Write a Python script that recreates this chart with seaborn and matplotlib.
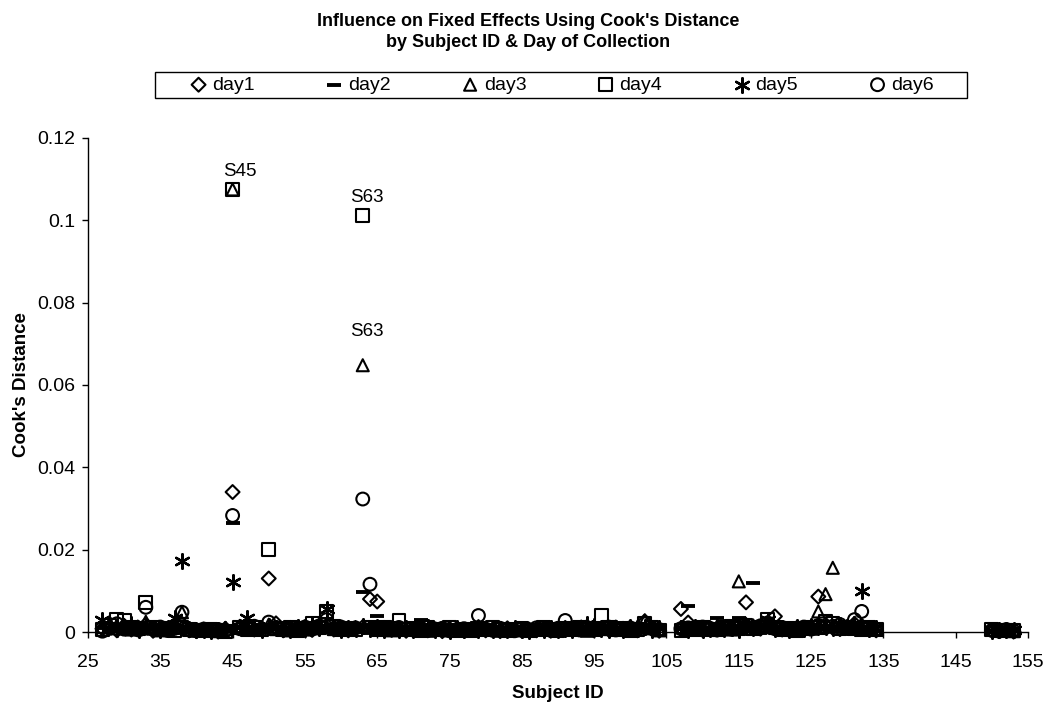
import matplotlib
matplotlib.use("Agg")
import matplotlib.pyplot as plt
import seaborn as sns
import pandas as pd
from matplotlib.ticker import FuncFormatter, MultipleLocator
from matplotlib.patches import Rectangle

# ---------------- data ----------------
subjects = [27, 28, 29, 30, 31, 32, 33, 34, 35, 36,
            37, 38, 39, 40, 41, 42, 43, 44, 45, 46,
            47, 48, 49, 50, 51, 52, 53, 54, 55, 56,
            57, 58, 59, 60, 61, 62, 63, 64, 65, 66,
            67, 68, 69, 70, 71, 72, 73, 74, 75, 76,
            77, 78, 79, 80, 81, 82, 83, 84, 85, 86,
            87, 88, 89, 90, 91, 92, 93, 94, 95, 96,
            97, 98, 99, 100, 101, 102, 103, 104,
            107, 108, 109, 110, 111, 112, 113, 114, 115, 116,
            117, 118, 119, 120, 121, 122, 123, 124, 125, 126,
            127, 128, 129, 130, 131, 132, 133, 134,
            150, 151, 152, 153]

day1 = [0.0008, 0.0012, 0.0004, 0.0015, 0.0006, 0.0010, 0.0018, 0.0003, 0.0007, 0.0005,
        0.0011, 0.0020, 0.0004, 0.0002, 0.0006, 0.0003, 0.0001, 0.0008, 0.0340, 0.0012,
        0.0015, 0.0006, 0.0009, 0.0130, 0.0021, 0.0004, 0.0010, 0.0007, 0.0012, 0.0005,
        0.0009, 0.0016, 0.0006, 0.0011, 0.0004, 0.0008, 0.0012, 0.0080, 0.0074, 0.0010,
        0.0005, 0.0009, 0.0003, 0.0007, 0.0011, 0.0004, 0.0006, 0.0002, 0.0008, 0.0005,
        0.0003, 0.0007, 0.0012, 0.0004, 0.0006, 0.0002, 0.0009, 0.0005, 0.0003, 0.0006,
        0.0004, 0.0008, 0.0003, 0.0006, 0.0010, 0.0005, 0.0007, 0.0012, 0.0004, 0.0009,
        0.0006, 0.0011, 0.0005, 0.0008, 0.0004, 0.0026, 0.0007, 0.0003,
        0.0056, 0.0023, 0.0008, 0.0005, 0.0010, 0.0006, 0.0012, 0.0009, 0.0015, 0.0072,
        0.0011, 0.0008, 0.0014, 0.0038, 0.0006, 0.0004, 0.0009, 0.0005, 0.0012, 0.0086,
        0.0018, 0.0010, 0.0007, 0.0012, 0.0020, 0.0015, 0.0006, 0.0004,
        0.0004, 0.0002, 0.0003, 0.0001]

day2 = [0.0010, 0.0006, 0.0014, 0.0009, 0.0004, 0.0012, 0.0007, 0.0005, 0.0011, 0.0003,
        0.0008, 0.0013, 0.0005, 0.0003, 0.0007, 0.0002, 0.0004, 0.0006, 0.0265, 0.0009,
        0.0011, 0.0004, 0.0008, 0.0016, 0.0010, 0.0006, 0.0003, 0.0009, 0.0005, 0.0012,
        0.0007, 0.0010, 0.0005, 0.0013, 0.0008, 0.0011, 0.0097, 0.0015, 0.0038, 0.0006,
        0.0009, 0.0012, 0.0004, 0.0008, 0.0028, 0.0006, 0.0010, 0.0003, 0.0007, 0.0011,
        0.0005, 0.0009, 0.0004, 0.0007, 0.0003, 0.0010, 0.0006, 0.0004, 0.0008, 0.0002,
        0.0006, 0.0003, 0.0009, 0.0005, 0.0007, 0.0004, 0.0011, 0.0006, 0.0008, 0.0013,
        0.0004, 0.0007, 0.0010, 0.0005, 0.0009, 0.0012, 0.0006, 0.0008,
        0.0010, 0.0062, 0.0007, 0.0005, 0.0009, 0.0033, 0.0006, 0.0011, 0.0034, 0.0008,
        0.0120, 0.0010, 0.0007, 0.0013, 0.0005, 0.0009, 0.0004, 0.0011, 0.0006, 0.0014,
        0.0009, 0.0012, 0.0006, 0.0015, 0.0010, 0.0008, 0.0005, 0.0003,
        0.0003, 0.0005, 0.0002, 0.0004]

day3 = [0.0012, 0.0020, 0.0009, 0.0016, 0.0006, 0.0011, 0.0025, 0.0008, 0.0004, 0.0007,
        0.0010, 0.0048, 0.0006, 0.0003, 0.0005, 0.0004, 0.0002, 0.0007, 0.1075, 0.0015,
        0.0009, 0.0005, 0.0012, 0.0018, 0.0007, 0.0010, 0.0004, 0.0013, 0.0006, 0.0009,
        0.0011, 0.0014, 0.0007, 0.0009, 0.0005, 0.0012, 0.0648, 0.0010, 0.0008, 0.0006,
        0.0004, 0.0010, 0.0007, 0.0005, 0.0009, 0.0003, 0.0008, 0.0006, 0.0004, 0.0010,
        0.0007, 0.0004, 0.0009, 0.0006, 0.0010, 0.0003, 0.0005, 0.0008, 0.0004, 0.0007,
        0.0009, 0.0005, 0.0011, 0.0004, 0.0007, 0.0010, 0.0006, 0.0003, 0.0008, 0.0012,
        0.0007, 0.0005, 0.0010, 0.0006, 0.0013, 0.0028, 0.0009, 0.0004,
        0.0012, 0.0008, 0.0005, 0.0010, 0.0007, 0.0014, 0.0009, 0.0006, 0.0123, 0.0020,
        0.0016, 0.0010, 0.0025, 0.0012, 0.0007, 0.0009, 0.0005, 0.0011, 0.0008, 0.0050,
        0.0092, 0.0156, 0.0013, 0.0009, 0.0016, 0.0011, 0.0007, 0.0005,
        0.0005, 0.0003, 0.0004, 0.0002]

day4 = [0.0006, 0.0015, 0.0030, 0.0028, 0.0012, 0.0009, 0.0072, 0.0010, 0.0005, 0.0008,
        0.0004, 0.0012, 0.0007, 0.0005, 0.0003, 0.0006, 0.0004, 0.0002, 0.1075, 0.0010,
        0.0007, 0.0012, 0.0005, 0.0200, 0.0009, 0.0006, 0.0011, 0.0004, 0.0008, 0.0022,
        0.0010, 0.0050, 0.0013, 0.0007, 0.0009, 0.0005, 0.1012, 0.0012, 0.0006, 0.0010,
        0.0008, 0.0028, 0.0006, 0.0009, 0.0004, 0.0011, 0.0007, 0.0005, 0.0010, 0.0003,
        0.0006, 0.0004, 0.0008, 0.0005, 0.0010, 0.0007, 0.0003, 0.0006, 0.0009, 0.0004,
        0.0005, 0.0010, 0.0007, 0.0004, 0.0009, 0.0006, 0.0012, 0.0008, 0.0005, 0.0040,
        0.0010, 0.0006, 0.0009, 0.0004, 0.0007, 0.0022, 0.0011, 0.0005,
        0.0004, 0.0008, 0.0006, 0.0011, 0.0007, 0.0005, 0.0010, 0.0013, 0.0009, 0.0015,
        0.0008, 0.0012, 0.0030, 0.0010, 0.0006, 0.0009, 0.0004, 0.0008, 0.0011, 0.0010,
        0.0025, 0.0022, 0.0008, 0.0012, 0.0009, 0.0006, 0.0010, 0.0007,
        0.0006, 0.0004, 0.0005, 0.0003]

day5 = [0.0030, 0.0018, 0.0008, 0.0012, 0.0020, 0.0006, 0.0015, 0.0010, 0.0005, 0.0009,
        0.0033, 0.0172, 0.0007, 0.0004, 0.0006, 0.0003, 0.0005, 0.0008, 0.0122, 0.0011,
        0.0033, 0.0009, 0.0006, 0.0014, 0.0010, 0.0007, 0.0004, 0.0012, 0.0008, 0.0016,
        0.0009, 0.0057, 0.0011, 0.0006, 0.0010, 0.0008, 0.0014, 0.0007, 0.0012, 0.0005,
        0.0010, 0.0006, 0.0009, 0.0004, 0.0008, 0.0012, 0.0005, 0.0007, 0.0003, 0.0009,
        0.0004, 0.0008, 0.0006, 0.0010, 0.0005, 0.0007, 0.0004, 0.0009, 0.0006, 0.0003,
        0.0007, 0.0004, 0.0010, 0.0006, 0.0008, 0.0005, 0.0009, 0.0020, 0.0014, 0.0007,
        0.0005, 0.0009, 0.0006, 0.0011, 0.0008, 0.0012, 0.0005, 0.0010,
        0.0009, 0.0006, 0.0011, 0.0005, 0.0008, 0.0012, 0.0007, 0.0010, 0.0006, 0.0013,
        0.0009, 0.0011, 0.0030, 0.0007, 0.0010, 0.0005, 0.0012, 0.0008, 0.0015, 0.0011,
        0.0013, 0.0009, 0.0016, 0.0012, 0.0020, 0.0100, 0.0008, 0.0010,
        0.0003, 0.0006, 0.0004, 0.0005]

day6 = [0.0002, 0.0009, 0.0020, 0.0007, 0.0011, 0.0005, 0.0060, 0.0008, 0.0012, 0.0004,
        0.0009, 0.0048, 0.0005, 0.0003, 0.0007, 0.0004, 0.0006, 0.0003, 0.0283, 0.0008,
        0.0010, 0.0014, 0.0006, 0.0024, 0.0011, 0.0008, 0.0005, 0.0009, 0.0012, 0.0007,
        0.0015, 0.0030, 0.0008, 0.0012, 0.0006, 0.0010, 0.0323, 0.0116, 0.0009, 0.0007,
        0.0006, 0.0011, 0.0008, 0.0005, 0.0010, 0.0004, 0.0007, 0.0009, 0.0003, 0.0006,
        0.0008, 0.0005, 0.0040, 0.0007, 0.0004, 0.0009, 0.0006, 0.0003, 0.0008, 0.0005,
        0.0010, 0.0006, 0.0004, 0.0009, 0.0028, 0.0007, 0.0005, 0.0011, 0.0006, 0.0008,
        0.0012, 0.0005, 0.0008, 0.0010, 0.0006, 0.0020, 0.0009, 0.0006,
        0.0008, 0.0010, 0.0006, 0.0012, 0.0009, 0.0005, 0.0011, 0.0007, 0.0010, 0.0014,
        0.0010, 0.0015, 0.0022, 0.0008, 0.0011, 0.0006, 0.0009, 0.0012, 0.0007, 0.0016,
        0.0011, 0.0014, 0.0018, 0.0010, 0.0030, 0.0050, 0.0009, 0.0006,
        0.0004, 0.0002, 0.0006, 0.0003]

day_names = ["day1", "day2", "day3", "day4", "day5", "day6"]
day_values = [day1, day2, day3, day4, day5, day6]

x_ticks = [25, 35, 45, 55, 65, 75, 85, 95, 105, 115, 125, 135, 145, 155]

# labelled outliers: (label, subject, day)
outliers = [("S45", 45, "day4"), ("S63", 63, "day4"), ("S63", 63, "day3")]

# ---------------- build table ----------------
rows = []
for name, vals in zip(day_names, day_values):
    for s, v in zip(subjects, vals):
        rows.append({"subject": s, "day": name, "cook": v})
df = pd.DataFrame(rows)

# ---------------- style ----------------
sns.set_style("ticks")
FONT = ["Liberation Sans", "DejaVu Sans"]
plt.rcParams["font.family"] = FONT
plt.rcParams["text.color"] = "black"
plt.rcParams["axes.labelcolor"] = "black"
plt.rcParams["xtick.color"] = "black"
plt.rcParams["ytick.color"] = "black"

fig = plt.figure(figsize=(10.56, 7.09), dpi=100)
ax = fig.add_axes([0.0833, 0.1086, 0.8902, 0.6968])

marker_styles = {
    "day1": dict(marker="D", s=50, facecolors="none", edgecolors="black", linewidths=1.5),
    "day2": dict(marker="_", s=110, color="black", linewidths=2.8),
    "day3": dict(marker="^", s=75, facecolors="none", edgecolors="black", linewidths=1.5),
    "day4": dict(marker="s", s=85, facecolors="none", edgecolors="black", linewidths=1.5),
    "day5": dict(marker=(6, 2, 0), s=110, color="black", linewidths=1.7),
    "day6": dict(marker="o", s=85, facecolors="none", edgecolors="black", linewidths=1.5),
}

for name in day_names:
    sub = df[df["day"] == name]
    sns.scatterplot(data=sub, x="subject", y="cook", ax=ax, label=name,
                    zorder=3, clip_on=False, **marker_styles[name])

# outlier labels
offsets = {("S45", "day4"): (5, 6.5), ("S63", "day4"): (3, 6.5), ("S63", "day3"): (3, 18.5)}
for lab, s, d in outliers:
    v = df[(df["subject"] == s) & (df["day"] == d)]["cook"].iloc[0]
    ax.annotate(lab, xy=(s, v), xytext=offsets[(lab, d)], textcoords="offset points",
                ha="center", va="bottom", fontsize=13.5, family=FONT, color="black")

ax.set_xlim(25, 155)
ax.set_ylim(0, 0.12)
ax.set_xticks(x_ticks)
ax.yaxis.set_major_locator(MultipleLocator(0.02))
ax.yaxis.set_major_formatter(FuncFormatter(lambda v, p: f"{v:g}"))
ax.tick_params(axis="both", labelsize=14, colors="black", length=4, width=1, direction="out")
ax.tick_params(axis="x", pad=12)
ax.tick_params(axis="y", pad=5)
for sp in ["top", "right"]:
    ax.spines[sp].set_visible(False)
for sp in ["left", "bottom"]:
    ax.spines[sp].set_color("black")
    ax.spines[sp].set_linewidth(1.0)

ax.set_xlabel("Subject ID", fontsize=13.5, fontweight="bold", labelpad=10)
ax.set_ylabel("Cook's Distance", fontsize=13.5, fontweight="bold", labelpad=5.5)

fig.suptitle("Influence on Fixed Effects Using Cook's Distance\nby Subject ID & Day of Collection",
             fontsize=13, fontweight="bold", y=0.982, linespacing=1.35)

# legend: entries centred, frame drawn as a fixed box
leg = ax.legend(loc="center", bbox_to_anchor=(0.532, 1 - 85 / 709),
                bbox_transform=fig.transFigure, ncol=6, frameon=False,
                fontsize=14, handletextpad=0.25, borderpad=0.2,
                borderaxespad=0, handlelength=0.9, columnspacing=3.64)
fig.patches.append(Rectangle((155 / 1056, 1 - 98 / 709), 812 / 1056, 26 / 709,
                             transform=fig.transFigure, fill=False,
                             edgecolor="black", linewidth=1.0, zorder=5))

fig.savefig("out.png", dpi=100)
